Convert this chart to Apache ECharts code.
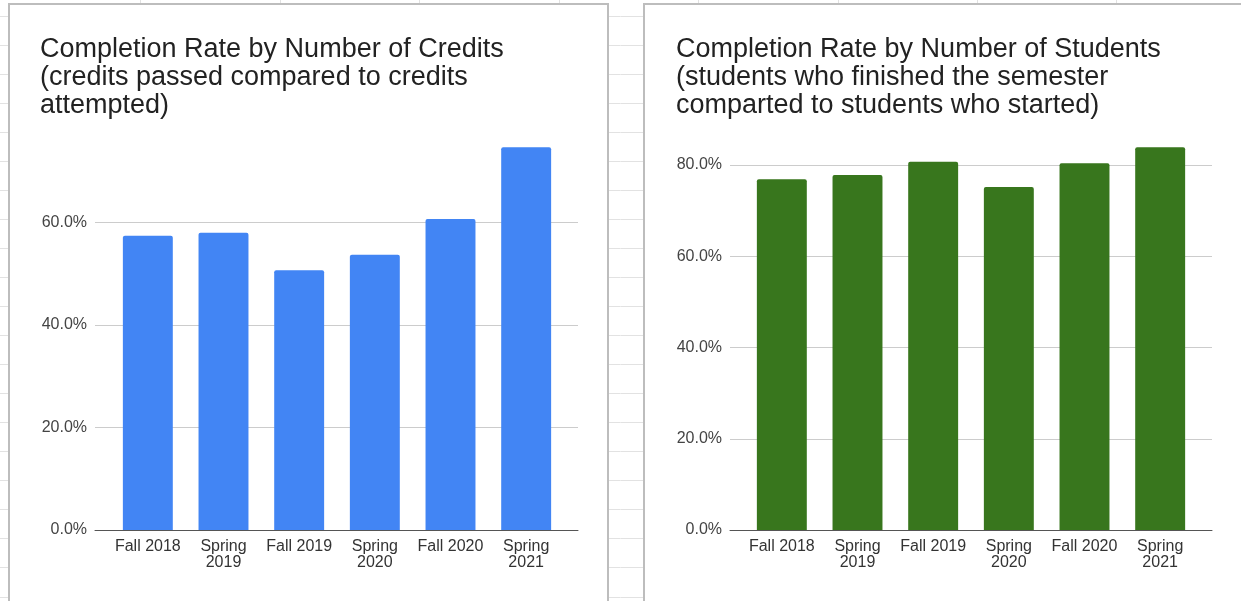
<!DOCTYPE html>
<html><head><meta charset="utf-8">
<script src="https://cdn.jsdelivr.net/npm/echarts@6/dist/echarts.min.js"></script>
<style>html,body{margin:0;padding:0;background:#fff}#c{width:1241px;height:601px}</style>
</head><body><div id="c"></div>
<script>
var categories = ['Fall 2018','Spring 2019','Fall 2019','Spring 2020','Fall 2020','Spring 2021'];
var creditsRate = [57.4, 58.0, 50.7, 53.7, 60.7, 74.7];
var studentsRate = [76.9, 77.8, 80.7, 75.2, 80.4, 83.9];
var leftTitle = 'Completion Rate by Number of Credits\n(credits passed compared to credits\nattempted)';
var rightTitle = 'Completion Rate by Number of Students\n(students who finished the semester\ncomparted to students who started)';

var chart = echarts.init(document.getElementById('c'), null, {renderer:'canvas'});
var FONT = '"Liberation Sans", Arial, sans-serif';
var gridCol = '#cccccc';

// spreadsheet background lines
var bg = [];
for (var y = 15.5; y < 601; y += 29.05) {
  bg.push({type:'line', shape:{x1:0,y1:Math.round(y)+0.5,x2:1241,y2:Math.round(y)+0.5}, style:{stroke:'#e2e2e2',lineWidth:1}, z:-20});
}
[140,280,419,559,698,838,977,1116].forEach(function(x){
  bg.push({type:'line', shape:{x1:x+0.5,y1:0,x2:x+0.5,y2:601}, style:{stroke:'#e2e2e2',lineWidth:1}, z:-20});
});
bg.push({type:'rect', shape:{x:9,y:4,width:599,height:620}, style:{fill:'#fff',stroke:'#bdbdbd',lineWidth:2}, z:-10});
bg.push({type:'rect', shape:{x:644,y:4,width:620,height:620}, style:{fill:'#fff',stroke:'#bdbdbd',lineWidth:2}, z:-10});

function labFmt(v){ return v.replace('Spring ','Spring\n'); }
function pct(v){ return v.toFixed(1)+'%'; }

chart.setOption({
  animation:false,
  graphic:{z:-10, elements:bg},
  title:[
    {text:leftTitle,left:35,top:31,z:5,textStyle:{fontFamily:FONT,fontSize:27,fontWeight:'normal',color:'#222',lineHeight:28}},
    {text:rightTitle,left:671,top:31,z:5,textStyle:{fontFamily:FONT,fontSize:27,fontWeight:'normal',color:'#222',lineHeight:28}}
  ],
  grid:[
    {left:95, width:483, top:120, bottom:71},
    {left:110, width:454, top:120, bottom:71},
    {left:730, width:482, top:73.75, bottom:71},
    {left:744, width:454, top:73.75, bottom:71}
  ],
  xAxis:[
    {gridIndex:0,z:4,type:'value',min:0,max:1,axisLine:{show:true,lineStyle:{color:'#555',width:1}},axisTick:{show:false},axisLabel:{show:false},splitLine:{show:false}},
    {gridIndex:1,z:4,type:'category',data:categories,axisLine:{show:false},axisTick:{show:false},
     axisLabel:{formatter:labFmt,fontFamily:FONT,fontSize:16,color:'#333',lineHeight:16,margin:9,interval:0}},
    {gridIndex:2,z:4,type:'value',min:0,max:1,axisLine:{show:true,lineStyle:{color:'#555',width:1}},axisTick:{show:false},axisLabel:{show:false},splitLine:{show:false}},
    {gridIndex:3,z:4,type:'category',data:categories,axisLine:{show:false},axisTick:{show:false},
     axisLabel:{formatter:labFmt,fontFamily:FONT,fontSize:16,color:'#333',lineHeight:16,margin:9,interval:0}}
  ],
  yAxis:[
    {gridIndex:0,z:2,type:'value',min:0,max:80,interval:20,axisLine:{show:false},axisTick:{show:false},
     axisLabel:{showMaxLabel:false,formatter:pct,fontFamily:FONT,fontSize:16,color:'#444',margin:8},
     splitLine:{show:true,lineStyle:{color:[gridCol,gridCol,gridCol,gridCol,'rgba(0,0,0,0)'],width:1}}},
    {gridIndex:1,type:'value',min:0,max:80,interval:20,show:false,splitLine:{show:false}},
    {gridIndex:2,z:2,type:'value',min:0,max:100,interval:20,axisLine:{show:false},axisTick:{show:false},
     axisLabel:{showMaxLabel:false,formatter:pct,fontFamily:FONT,fontSize:16,color:'#444',margin:8},
     splitLine:{show:true,lineStyle:{color:[gridCol,gridCol,gridCol,gridCol,gridCol,'rgba(0,0,0,0)'],width:1}}},
    {gridIndex:3,type:'value',min:0,max:100,interval:20,show:false,splitLine:{show:false}}
  ],
  series:[
    {type:'bar',xAxisIndex:1,yAxisIndex:1,data:creditsRate,barCategoryGap:'34%',itemStyle:{color:'#4285f4',borderRadius:[2,2,0,0]},z:3},
    {type:'bar',xAxisIndex:3,yAxisIndex:3,data:studentsRate,barCategoryGap:'34%',itemStyle:{color:'#38761d',borderRadius:[2,2,0,0]},z:3}
  ]
});
</script></body></html>
